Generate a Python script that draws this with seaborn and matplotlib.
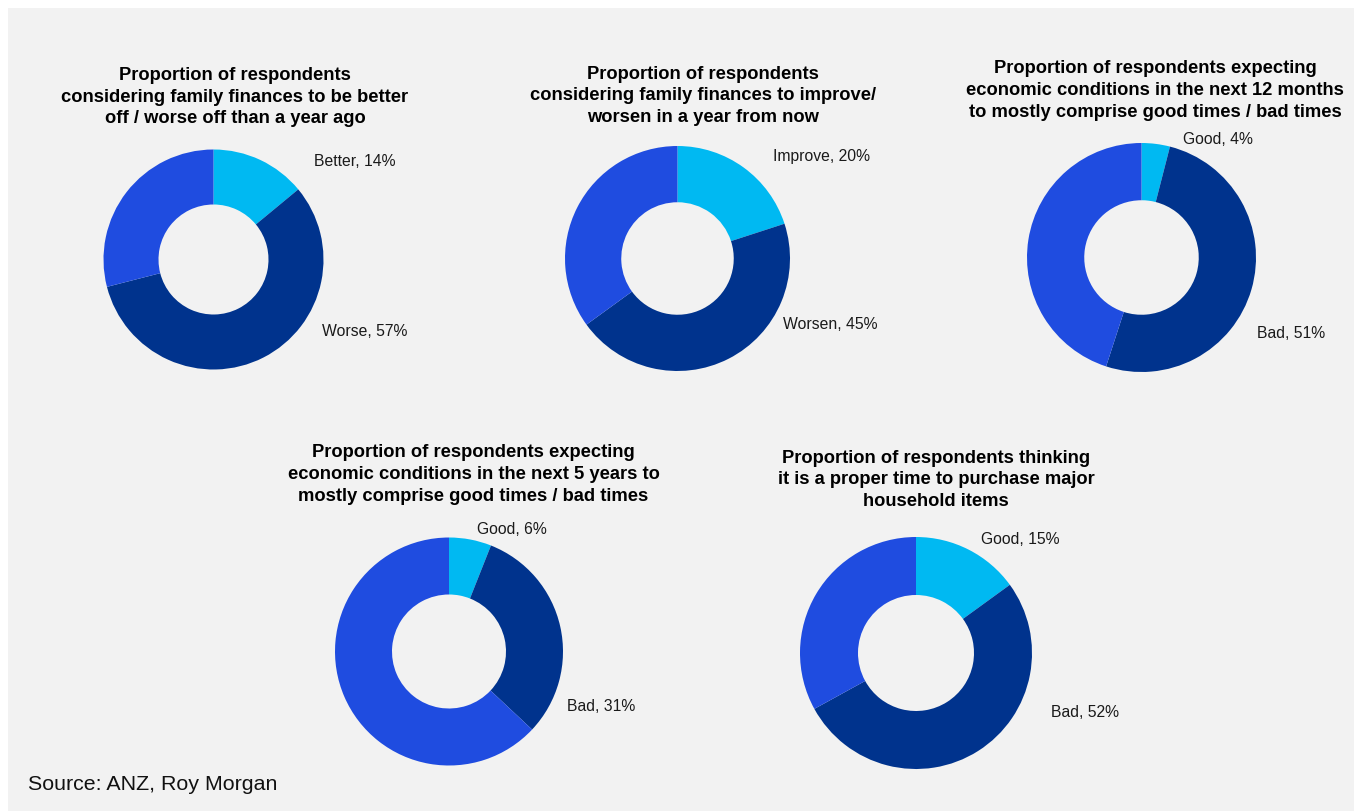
import matplotlib
matplotlib.use("Agg")
import matplotlib.pyplot as plt
from matplotlib.patches import Rectangle
import seaborn as sns

# Survey results (per cent of respondents)
titles = [
    "Proportion of respondents\nconsidering family finances to be better\noff / worse off than a year ago",
    "Proportion of respondents\nconsidering family finances to improve/\nworsen in a year from now",
    "Proportion of respondents expecting\neconomic conditions in the next 12 months\nto mostly comprise good times / bad times",
    "Proportion of respondents expecting\neconomic conditions in the next 5 years to\nmostly comprise good times / bad times",
    "Proportion of respondents thinking\nit is a proper time to purchase major\nhousehold items",
]
positive_labels = ["Better", "Improve", "Good", "Good", "Good"]
positive_values = [14, 20, 4, 6, 15]
negative_labels = ["Worse", "Worsen", "Bad", "Bad", "Bad"]
negative_values = [57, 45, 51, 31, 52]
other_values = [29, 35, 45, 63, 33]

sns.set_theme(style="white")
plt.rcParams["font.family"] = ["Liberation Sans", "DejaVu Sans"]
palette = sns.color_palette(["#00B9F2", "#00338D", "#1F4CE0"])

W, H = 1354, 812
BG = "#F2F2F2"
fig = plt.figure(figsize=(W / 100, H / 100), dpi=100, facecolor="white")
fig.patches.append(Rectangle((8 / W, -0.05), 1.1, 1.05 - 9 / H, transform=fig.transFigure,
                             facecolor=BG, edgecolor="none", zorder=-10))


def fx(x):
    return x / W


def fy(y):
    return 1 - y / H


# layout in pixels: donut centre, radius, title centre (middle line), label anchors
layout = [
    dict(c=(213.5, 260.5), r=110, t=(235, 97), l1=(314, 161), l2=(322, 331)),
    dict(c=(677.5, 259.5), r=112.5, t=(703, 96), l1=(773, 157), l2=(783, 325)),
    dict(c=(1141.5, 258.5), r=114.5, t=(1155, 90.5), l1=(1183, 139), l2=(1257, 333)),
    dict(c=(449, 652.5), r=114, t=(473.5, 474.5), l1=(477, 530), l2=(567, 707)),
    dict(c=(916, 654), r=116, t=(936, 480), l1=(981, 540), l2=(1051, 713)),
]

for i, lay in enumerate(layout):
    cx, cy = lay["c"]
    r = lay["r"]
    ax = fig.add_axes([fx(cx - r), fy(cy + r), 2 * r / W, 2 * r / H])
    vals = [positive_values[i], negative_values[i], other_values[i]]
    ax.pie(vals, colors=palette, startangle=90, counterclock=False, radius=1,
           wedgeprops=dict(width=0.5, edgecolor="none"))
    ax.set_xlim(-1, 1)
    ax.set_ylim(-1, 1)
    ax.set_aspect("equal")
    ax.axis("off")

    tx, ty = lay["t"]
    fig.text(fx(tx), fy(ty), titles[i], ha="center", va="center",
             fontsize=13.2, fontweight="bold", color="#000000", linespacing=1.38)

    fig.text(fx(lay["l1"][0]), fy(lay["l1"][1]),
             f"{positive_labels[i]}, {positive_values[i]}%",
             ha="left", va="center", fontsize=11.3, color="#1a1a1a")
    fig.text(fx(lay["l2"][0]), fy(lay["l2"][1]),
             f"{negative_labels[i]}, {negative_values[i]}%",
             ha="left", va="center", fontsize=11.3, color="#1a1a1a")

fig.text(fx(28), fy(785), "Source: ANZ, Roy Morgan", ha="left", va="center",
         fontsize=15.4, color="#111111")

fig.savefig("out.png", dpi=100, facecolor="white")
